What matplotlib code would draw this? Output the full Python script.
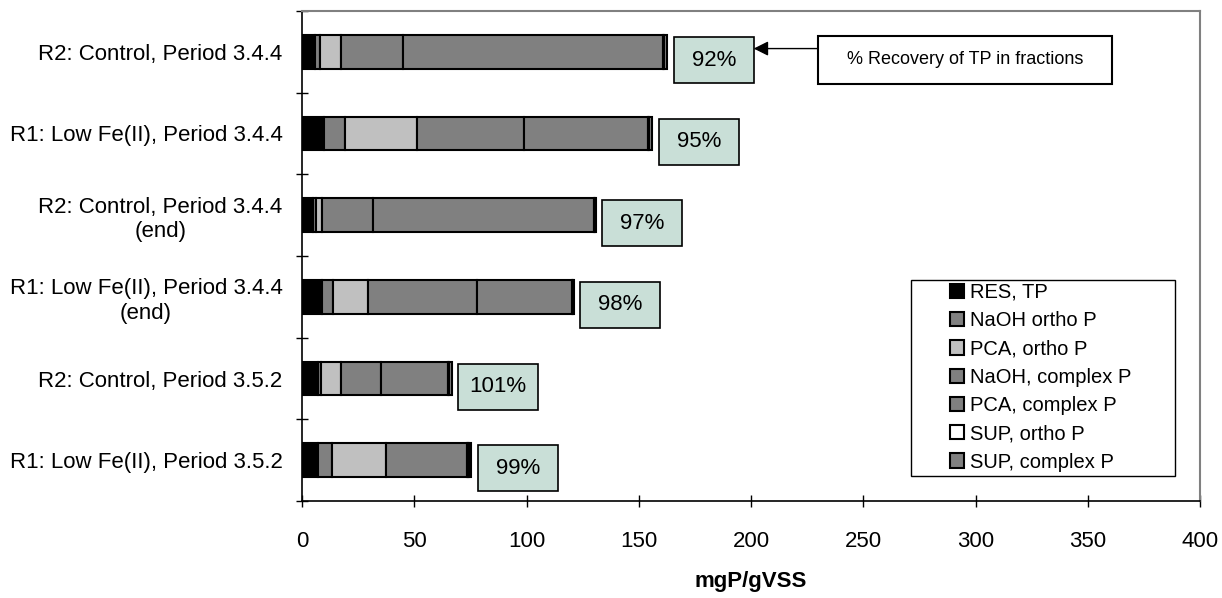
import numpy as np
import matplotlib
matplotlib.use("Agg")
import matplotlib.pyplot as plt
from matplotlib.patches import Rectangle

plt.rcParams['font.family'] = ['Liberation Sans', 'DejaVu Sans']

# categories, top to bottom
categories = ["R2: Control, Period 3.4.4",
              "R1: Low Fe(II), Period 3.4.4",
              "R2: Control, Period 3.4.4\n(end)",
              "R1: Low Fe(II), Period 3.4.4\n(end)",
              "R2: Control, Period 3.5.2",
              "R1: Low Fe(II), Period 3.5.2"]

# P fractions, mgP/gVSS
res_tp        = [5.8, 9.8, 4.9, 8.9, 7.3, 7.1]
naoh_ortho    = [2.2, 9.3, 1.3, 4.9, 1.3, 6.2]
pca_ortho     = [9.3, 32.0, 2.7, 15.6, 8.9, 24.0]
naoh_complex  = [27.6, 48.0, 22.7, 48.5, 17.8, 36.1]
pca_complex   = [115.7, 54.8, 98.4, 42.3, 29.8, 0.5]
sup_ortho     = [0.5, 0.5, 0.3, 0.3, 0.5, 0.5]
sup_complex   = [1.5, 1.5, 0.5, 0.5, 1.0, 1.0]

# % recovery of TP in fractions
recovery = [92, 95, 97, 98, 101, 99]

series = [(res_tp, "black", "RES, TP"),
          (naoh_ortho, "#808080", "NaOH ortho P"),
          (pca_ortho, "#C0C0C0", "PCA, ortho P"),
          (naoh_complex, "#808080", "NaOH, complex P"),
          (pca_complex, "#808080", "PCA, complex P"),
          (sup_ortho, "white", "SUP, ortho P"),
          (sup_complex, "#808080", "SUP, complex P")]

fig = plt.figure(figsize=(12.22, 5.98), dpi=100)
ax = fig.add_axes([302/1222, 97/598, 898/1222, 490/598])

y = np.arange(len(categories))
left = np.zeros(len(categories))
handles = []
for vals, col, lab in series:
    b = ax.barh(y, vals, left=left, height=0.415, color=col,
                edgecolor="black", linewidth=1.5, label=lab)
    handles.append(b)
    left = left + np.array(vals)
totals = left

ax.set_xlim(0, 400)
ax.set_ylim(5.5, -0.5)

# recovery boxes
for i, (tot, pct) in enumerate(zip(totals, recovery)):
    ax.add_patch(Rectangle((tot + 3, i - 0.18), 35.6, 0.56, facecolor="#C9DFD7",
                           edgecolor="black", linewidth=1.2, zorder=3))
    ax.text(tot + 3 + 17.8, i + 0.1, f"{pct}%", ha="center", va="center",
            fontsize=16, zorder=4)

# note box with arrow
ax.add_patch(Rectangle((229.7, -0.195), 131, 0.585, facecolor="white",
                       edgecolor="black", linewidth=1.5, zorder=3))
ax.text(295.2, 0.1, "% Recovery of TP in fractions", ha="center", va="center",
        fontsize=13, zorder=4)
ax.annotate("", xy=(totals[0] + 3 + 35.6, -0.04), xytext=(229.7, -0.04),
            arrowprops=dict(arrowstyle="-|>", color="black", lw=1,
                            mutation_scale=22, shrinkA=0, shrinkB=0))

# axes styling
ax.set_xticks(np.arange(0, 401, 50))
ax.set_yticks(y)
ax.set_yticklabels(categories, multialignment="center", fontsize=16)
ax.set_yticks(np.arange(-0.5, 6, 1), minor=True)
ax.tick_params(axis="y", which="major", length=0, pad=14)
ax.tick_params(axis="y", which="minor", direction="inout", length=9, width=1)
ax.tick_params(axis="x", direction="inout", length=9, width=1, pad=17, labelsize=16)
ax.set_xlabel("mgP/gVSS", fontsize=16, fontweight="bold", labelpad=14)

for s in ["left", "bottom"]:
    ax.spines[s].set_color("black")
    ax.spines[s].set_linewidth(1.2)
for s in ["top", "right"]:
    ax.spines[s].set_color("#808080")
    ax.spines[s].set_linewidth(1.5)

# legend
fig.legend(handles, [h.get_label() for h in handles], loc="upper left",
           bbox_to_anchor=(950/1222, (598-283)/598), frameon=False,
           fontsize=14.5, handlelength=0.7, handleheight=0.7,
           handletextpad=0.3, labelspacing=0.46, borderpad=0, borderaxespad=0)
fig.patches.append(Rectangle((911/1222, (598-476)/598), 264/1222, 196/598,
                             transform=fig.transFigure, fill=False,
                             edgecolor="black", linewidth=1))

fig.savefig("out.png", dpi=100)
